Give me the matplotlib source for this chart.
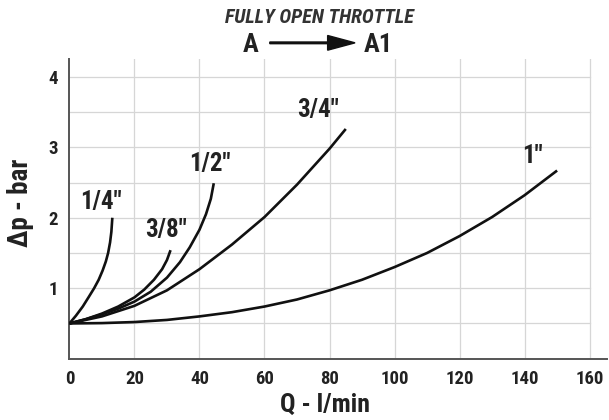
import matplotlib
matplotlib.use("Agg")
import matplotlib.pyplot as plt
from matplotlib import font_manager

fams = {f.name for f in font_manager.fontManager.ttflist}
cands = ['Roboto Condensed', 'Liberation Sans Narrow', 'Open Sans Condensed', 'Liberation Sans', 'DejaVu Sans']
FONT = [f for f in cands if f in fams] or ['DejaVu Sans']
plt.rcParams['font.family'] = FONT

# Data: flow Q (l/min) vs pressure drop (bar)
q_14 = [0, 2, 4.1, 6, 7.6, 9, 10.2, 11.2, 11.9, 12.5, 12.9, 13.2]
p_14 = [0.5, 0.61, 0.74, 0.88, 1.0, 1.12, 1.25, 1.38, 1.5, 1.65, 1.8, 2.0]

q_38 = [0, 5, 10, 15, 20, 23, 26, 28.5, 30, 31.1]
p_38 = [0.5, 0.56, 0.64, 0.74, 0.87, 0.98, 1.12, 1.27, 1.4, 1.54]

q_12 = [0, 5, 10, 15, 20, 25, 30, 34, 37, 40, 42, 43.5, 44.4]
p_12 = [0.5, 0.56, 0.63, 0.71, 0.81, 0.95, 1.15, 1.37, 1.58, 1.83, 2.05, 2.27, 2.49]

q_34 = [0, 10, 20, 30, 40, 50, 60, 70, 80, 85]
p_34 = [0.5, 0.6, 0.75, 0.97, 1.27, 1.62, 2.01, 2.47, 2.98, 3.26]

q_1 = [0, 10, 20, 30, 40, 50, 60, 70, 80, 90, 100, 110, 120, 130, 140, 150]
p_1 = [0.5, 0.505, 0.52, 0.55, 0.6, 0.66, 0.74, 0.84, 0.97, 1.12, 1.3, 1.5, 1.74, 2.01, 2.32, 2.67]

series = [(q_14, p_14), (q_38, p_38), (q_12, p_12), (q_34, p_34), (q_1, p_1)]
labels = ['1/4"', '3/8"', '1/2"', '3/4"', '1"']
label_pos = [(9.8, 2.22), (29.8, 1.82), (43.3, 2.76), (76.6, 3.53), (142.3, 2.88)]

x_ticks = [0, 20, 40, 60, 80, 100, 120, 140, 160]
y_ticks = [1, 2, 3, 4]

fig = plt.figure(figsize=(6.09, 4.20), dpi=100)
ax = fig.add_axes([0.114, 0.146, 0.883, 0.713])
ax.set_xlim(0, 165.4)
ax.set_ylim(0, 4.25)

# grid
for gx in range(20, 161, 20):
    ax.axvline(gx, color='#d6d6d6', lw=0.9, zorder=0)
for i in range(1, 9):
    ax.axhline(i * 0.5, xmax=160 / 165.4, color='#d6d6d6', lw=0.9, zorder=0)

for (q, p) in series:
    ax.plot(q, p, color='#111111', lw=1.9, solid_capstyle='butt',
            solid_joinstyle='round', zorder=3)

for lab, (lx, ly) in zip(labels, label_pos):
    ax.text(lx, ly, lab, ha='center', va='center', fontsize=18, fontweight='bold',
            color='#222222')

for s in ['top', 'right']:
    ax.spines[s].set_visible(False)
for s in ['left', 'bottom']:
    ax.spines[s].set_color('#555555')
    ax.spines[s].set_linewidth(1.4)

ax.set_xticks(x_ticks)
ax.set_yticks(y_ticks)
ax.tick_params(length=0, labelsize=13.5, colors='#222222', pad=8)
for t in ax.get_xticklabels() + ax.get_yticklabels():
    t.set_fontweight('bold')

ax.set_xlabel('Q - l/min', fontsize=18.5, fontweight='bold', color='#222222')
ax.xaxis.set_label_coords(0.476, -0.115)
ax.set_ylabel('\u0394p - bar', fontsize=19.5, fontweight='bold', color='#222222')
ax.yaxis.set_label_coords(-0.066, 0.52)

fig.text(0.525, 0.958, 'FULLY OPEN THROTTLE', ha='center', va='center', fontsize=14.5,
         fontweight='bold', style='italic', color='#333333')
fig.text(0.412, 0.893, 'A', ha='center', va='center', fontsize=19, fontweight='bold', color='#222222')
fig.text(0.621, 0.893, 'A1', ha='center', va='center', fontsize=19, fontweight='bold', color='#222222')
fig.patches.append(matplotlib.patches.FancyArrow(
    0.443, 0.898, 0.140, 0, width=0.004, head_width=0.035, head_length=0.045,
    length_includes_head=True, color='#111111', transform=fig.transFigure, figure=fig))

fig.savefig('out.png', dpi=100)
